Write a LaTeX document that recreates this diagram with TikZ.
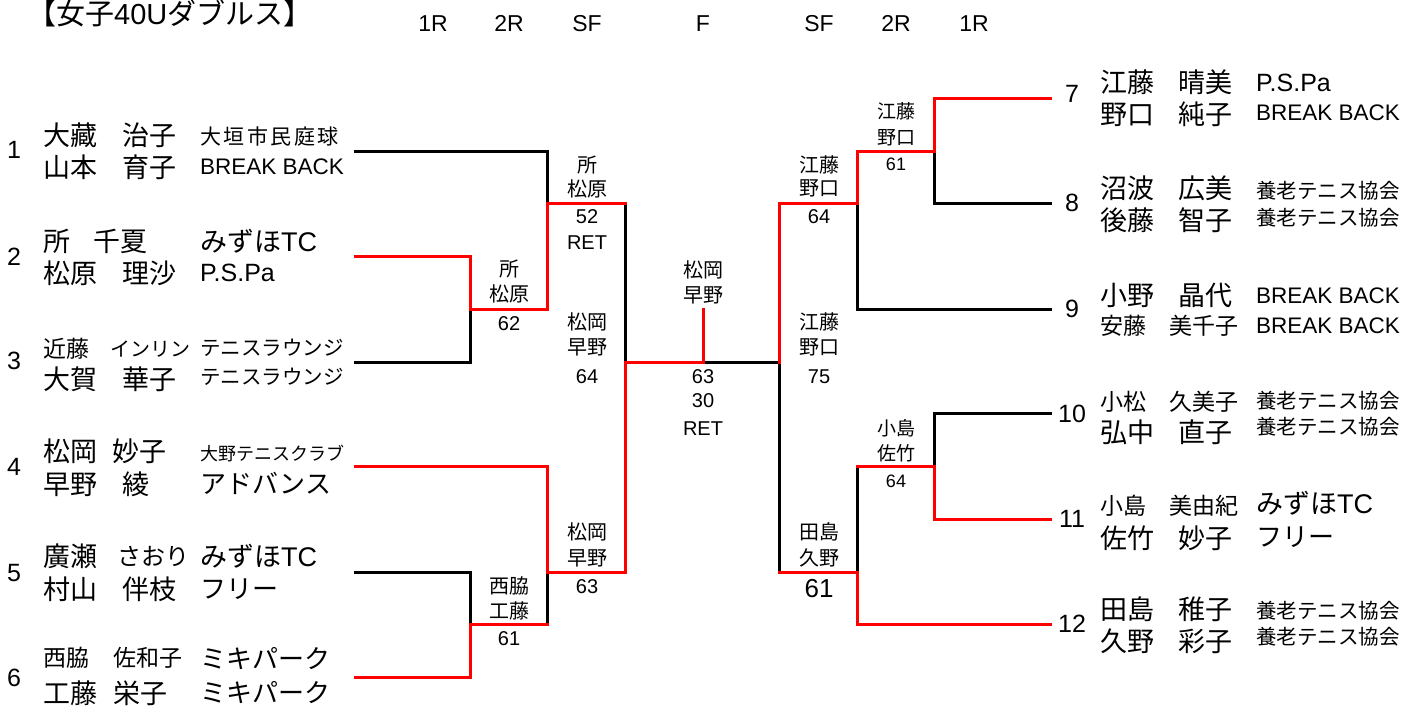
\documentclass[tikz,border=0pt]{standalone}
\usepackage{fontspec}
\setmainfont{Liberation Sans}
\newfontfamily\jp{Noto Sans CJK JP}
\newfontfamily\lat{Liberation Sans}
\newcommand{\fsz}[1]{\fontsize{#1}{#1}\selectfont}
\begin{document}
\begin{tikzpicture}[x=1pt,y=-1pt,
  lose/.style={line width=3pt, black, line cap=rect, line join=miter},
  win/.style={line width=3pt, red, line cap=rect, line join=miter},
  J/.style={font=\jp\fsz{#1}, inner sep=0pt, anchor=base west, yshift=-0.38pt*#1},
  L/.style={font=\lat\fsz{#1}, inner sep=0pt, anchor=base west, yshift=-0.358pt*#1},
  Jc/.style={font=\jp\fsz{#1}, inner sep=0pt, anchor=base, yshift=-0.38pt*#1},
  Lc/.style={font=\lat\fsz{#1}, inner sep=0pt, anchor=base, yshift=-0.358pt*#1},
  nm/.style={J=27},
  nms/.style={J=23},
  num/.style={Lc=25},
  rnd/.style={Lc=23},
  lab/.style={Jc=20},
  labs/.style={Jc=19},
  sc/.style={Lc=20},
  scs/.style={Lc=18},
  scb/.style={Lc=26},
]
\useasboundingbox (0,0) rectangle (1422,705);

% title and rounds
\node[J=29] (title) at (27,13) {【女子{\lat 40U}ダブルス】};
\node[rnd] (r1) at (433,23) {1R};
\node[rnd] (r2) at (509,23) {2R};
\node[rnd] (r3) at (587,23) {SF};
\node[rnd] (r4) at (703,23) {F};
\node[rnd] (r5) at (819,23) {SF};
\node[rnd] (r6) at (896,23) {2R};
\node[rnd] (r7) at (974,23) {1R};

% bracket coordinates
\coordinate (e1) at (355,151); \coordinate (e2) at (355,256); \coordinate (e3) at (355,362);
\coordinate (e4) at (355,466); \coordinate (e5) at (355,572); \coordinate (e6) at (355,677);
\coordinate (a1) at (470,256); \coordinate (a2) at (470,309); \coordinate (a3) at (470,362);
\coordinate (b1) at (547,151); \coordinate (b2) at (547,203); \coordinate (b3) at (547,309);
\coordinate (b4) at (547,466); \coordinate (b5) at (547,572); \coordinate (b6) at (547,624);
\coordinate (a4) at (470,572); \coordinate (a5) at (470,624); \coordinate (a6) at (470,677);
\coordinate (c1) at (625,203); \coordinate (c2) at (625,362); \coordinate (c3) at (625,572);
\coordinate (f1) at (703,309); \coordinate (f2) at (703,362);
\coordinate (d1) at (779,203); \coordinate (d2) at (779,362); \coordinate (d3) at (779,572);
\coordinate (g1) at (857,151); \coordinate (g2) at (857,203); \coordinate (g3) at (857,309);
\coordinate (g4) at (857,466); \coordinate (g5) at (857,572); \coordinate (g6) at (857,624);
\coordinate (h1) at (934,98);  \coordinate (h2) at (934,151); \coordinate (h3) at (934,203);
\coordinate (h4) at (934,413); \coordinate (h5) at (934,466); \coordinate (h6) at (934,519);
\coordinate (k7) at (1050,98);  \coordinate (k8) at (1050,203); \coordinate (k9) at (1050,309);
\coordinate (k10) at (1050,413); \coordinate (k11) at (1050,519); \coordinate (k12) at (1050,624);

% losing lines
\draw[lose] (e1) -- (b1) -- (b2);
\draw[lose] (e3) -- (a3) -- (a2);
\draw[lose] (c1) -- (c2);
\draw[lose] (e5) -- (a4) -- (a5);
\draw[lose] (b6) -- (b5);
\draw[lose] (f2) -- (d2) -- (d3);
\draw[lose] (g2) -- (g3) -- (k9);
\draw[lose] (h2) -- (h3) -- (k8);
\draw[lose] (g5) -- (g4);
\draw[lose] (h5) -- (h4) -- (k10);
% winning lines
\draw[win] (e2) -- (a1) -- (a2) -- (b3) -- (b2) -- (c1);
\draw[win] (e4) -- (b4) -- (b5) -- (c3) -- (c2) -- (f2) -- (f1);
\draw[win] (e6) -- (a6) -- (a5) -- (b6);
\draw[win] (d2) -- (d1) -- (g2) -- (g1) -- (h2) -- (h1) -- (k7);
\draw[win] (d3) -- (g5) -- (g6) -- (k12);
\draw[win] (g4) -- (h5) -- (h6) -- (k11);

% left seeds
\node[num] (n1) at (14,150) {1};
\node[num] (n2) at (14,257) {2};
\node[num] (n3) at (14,361) {3};
\node[num] (n4) at (14,467) {4};
\node[num] (n5) at (14,573) {5};
\node[num] (n6) at (14,678) {6};

% player 1
\node[nm] (p1a) at (43,135) {大藏};
\node[nm] (p1b) at (122,135) {治子};
\node[J=21, font=\jp\fsz{21}\addfontfeature{LetterSpace=12}] (p1c) at (200,137) {大垣市民庭球};
\node[nm] (p1d) at (43,167) {山本};
\node[nm] (p1e) at (122,167) {育子};
\node[L=22.5] (p1f) at (200,166) {BREAK BACK};
% player 2
\node[nm] (p2a) at (43,241) {所};
\node[nm] (p2b) at (93,241) {千夏};
\node[J=27] (p2c) at (200,241) {みずほ{\lat TC}};
\node[nm] (p2d) at (43,273) {松原};
\node[nm] (p2e) at (122,273) {理沙};
\node[L=25] (p2f) at (200,273) {P.S.Pa};
% player 3
\node[nms] (p3a) at (43,349) {近藤};
\node[J=20] (p3b) at (110,349) {インリン};
\node[J=20.5] (p3c) at (200,348) {テニスラウンジ};
\node[nm] (p3d) at (43,379) {大賀};
\node[nm] (p3e) at (122,379) {華子};
\node[J=20.5] (p3f) at (200,377) {テニスラウンジ};
% player 4
\node[nm] (p4a) at (43,451) {松岡};
\node[nm] (p4b) at (112,451) {妙子};
\node[J=18] (p4c) at (200,454) {大野テニスクラブ};
\node[nm] (p4d) at (43,484) {早野};
\node[nm] (p4e) at (122,484) {綾};
\node[J=26] (p4f) at (200,484) {アドバンス};
% player 5
\node[nm] (p5a) at (43,556) {廣瀬};
\node[J=24] (p5b) at (117,556) {さおり};
\node[J=27] (p5c) at (200,556) {みずほ{\lat TC}};
\node[nm] (p5d) at (43,589) {村山};
\node[nm] (p5e) at (122,589) {伴枝};
\node[J=26] (p5f) at (200,589) {フリー};
% player 6
\node[nms] (p6a) at (43,658) {西脇};
\node[nms] (p6b) at (113,658) {佐和子};
\node[J=26] (p6c) at (200,659) {ミキパーク};
\node[nm] (p6d) at (43,693) {工藤};
\node[nm] (p6e) at (113,693) {栄子};
\node[J=26] (p6f) at (200,693) {ミキパーク};

% right seeds
\node[num] (n7) at (1072,94) {7};
\node[num] (n8) at (1072,203) {8};
\node[num] (n9) at (1072,309) {9};
\node[num] (n10) at (1072,414) {10};
\node[num] (n11) at (1072,519) {11};
\node[num] (n12) at (1072,624) {12};

% player 7
\node[nm] (p7a) at (1100,82) {江藤};
\node[nm] (p7b) at (1178,82) {晴美};
\node[L=25] (p7c) at (1256,83) {P.S.Pa};
\node[nm] (p7d) at (1100,114) {野口};
\node[nm] (p7e) at (1178,114) {純子};
\node[L=22.5] (p7f) at (1256,112) {BREAK BACK};
% player 8
\node[nm] (p8a) at (1100,188) {沼波};
\node[nm] (p8b) at (1178,188) {広美};
\node[J=20.5] (p8c) at (1256,191) {養老テニス協会};
\node[nm] (p8d) at (1100,220) {後藤};
\node[nm] (p8e) at (1178,220) {智子};
\node[J=20.5] (p8f) at (1256,218) {養老テニス協会};
% player 9
\node[nm] (p9a) at (1100,295) {小野};
\node[nm] (p9b) at (1178,295) {晶代};
\node[L=22.5] (p9c) at (1256,295) {BREAK BACK};
\node[nms] (p9d) at (1100,326) {安藤};
\node[nms] (p9e) at (1169,326) {美千子};
\node[L=22.5] (p9f) at (1256,325) {BREAK BACK};
% player 10
\node[nms] (p10a) at (1100,402) {小松};
\node[nms] (p10b) at (1169,402) {久美子};
\node[J=20.5] (p10c) at (1256,401) {養老テニス協会};
\node[nm] (p10d) at (1100,432) {弘中};
\node[nm] (p10e) at (1178,432) {直子};
\node[J=20.5] (p10f) at (1256,427) {養老テニス協会};
% player 11
\node[nms] (p11a) at (1100,506) {小島};
\node[nms] (p11b) at (1169,506) {美由紀};
\node[J=27] (p11c) at (1256,503) {みずほ{\lat TC}};
\node[nm] (p11d) at (1100,538) {佐竹};
\node[nm] (p11e) at (1178,538) {妙子};
\node[J=26] (p11f) at (1256,537) {フリー};
% player 12
\node[nm] (p12a) at (1100,609) {田島};
\node[nm] (p12b) at (1178,609) {稚子};
\node[J=20.5] (p12c) at (1256,611) {養老テニス協会};
\node[nm] (p12d) at (1100,641) {久野};
\node[nm] (p12e) at (1178,641) {彩子};
\node[J=20.5] (p12f) at (1256,637) {養老テニス協会};

% match labels left
\node[lab] (m1a) at (509,269) {所};
\node[lab] (m1b) at (509,294) {松原};
\node[sc]  (m1c) at (509,323) {62};
\node[lab] (m2a) at (587,165) {所};
\node[lab] (m2b) at (587,189) {松原};
\node[sc]  (m2c) at (587,216) {52};
\node[sc]  (m2d) at (587,242) {RET};
\node[lab] (m3a) at (587,322) {松岡};
\node[lab] (m3b) at (587,347) {早野};
\node[sc]  (m3c) at (587,376) {64};
\node[lab] (m4a) at (587,532) {松岡};
\node[lab] (m4b) at (587,558) {早野};
\node[sc]  (m4c) at (587,586) {63};
\node[lab] (m5a) at (509,586) {西脇};
\node[lab] (m5b) at (509,611) {工藤};
\node[sc]  (m5c) at (509,638) {61};
% final
\node[lab] (fa) at (703,270) {松岡};
\node[lab] (fb) at (703,295) {早野};
\node[sc]  (fc) at (703,376) {63};
\node[sc]  (fd) at (703,400) {30};
\node[sc]  (fe) at (703,428) {RET};
% match labels right
\node[lab] (m6a) at (819,165) {江藤};
\node[lab] (m6b) at (819,188) {野口};
\node[sc]  (m6c) at (819,216) {64};
\node[lab] (m7a) at (819,322) {江藤};
\node[lab] (m7b) at (819,347) {野口};
\node[sc]  (m7c) at (819,376) {75};
\node[lab] (m8a) at (819,532) {田島};
\node[lab] (m8b) at (819,558) {久野};
\node[scb] (m8c) at (819,588) {61};
\node[labs] (m9a) at (896,111) {江藤};
\node[labs] (m9b) at (896,137) {野口};
\node[scs]  (m9c) at (896,164) {61};
\node[labs] (m10a) at (896,428) {小島};
\node[labs] (m10b) at (896,453) {佐竹};
\node[scs]  (m10c) at (896,481) {64};
\end{tikzpicture}
\end{document}
